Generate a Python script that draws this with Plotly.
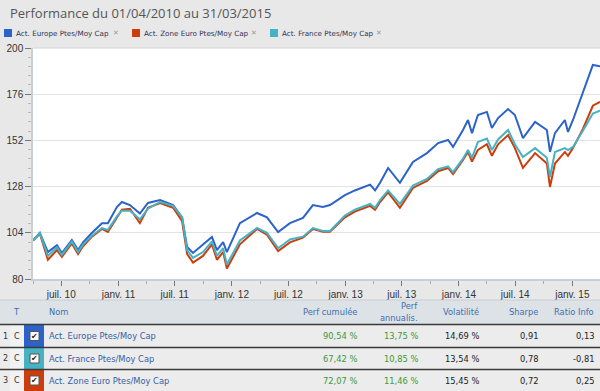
import plotly.graph_objects as go

# ---------------- data ----------------
dates = ["2010-04-01", "2010-04-23", "2010-05-19", "2010-06-17", "2010-07-03", "2010-08-04",
         "2010-08-24", "2010-09-09", "2010-10-08", "2010-11-09", "2010-11-28", "2010-12-27",
         "2011-01-12", "2011-02-07", "2011-03-11", "2011-04-06", "2011-05-15", "2011-06-26",
         "2011-07-25", "2011-08-10", "2011-08-29", "2011-09-30", "2011-10-29", "2011-11-14",
         "2011-12-04", "2011-12-16", "2012-01-27", "2012-03-22", "2012-04-23", "2012-05-29",
         "2012-07-06", "2012-08-17", "2012-09-18", "2012-10-20", "2012-11-12", "2012-12-30",
         "2013-01-31", "2013-03-21", "2013-04-06", "2013-04-22", "2013-05-18", "2013-06-25",
         "2013-08-06", "2013-09-20", "2013-10-26", "2013-11-27", "2013-12-13", "2014-01-14",
         "2014-01-30", "2014-02-12", "2014-03-03", "2014-04-01", "2014-04-17", "2014-05-07",
         "2014-06-08", "2014-06-30", "2014-07-26", "2014-09-03", "2014-10-11", "2014-10-21",
         "2014-11-06", "2014-12-08", "2014-12-18", "2015-01-03", "2015-02-04", "2015-03-08",
         "2015-03-31"]

europe = [100, 104, 94, 97.6, 93.5, 100.3,
          95, 99, 104, 109, 109, 117.4,
          120, 118.4, 114, 119.5, 121, 118.4,
          112, 96.6, 93.5, 97.6, 101.8, 95,
          99.2, 94, 109, 114.3, 112, 104.4,
          109, 111.7, 118.4, 117.4, 118.4, 123.6,
          126, 129, 126, 130, 137.7, 130,
          140.8, 145.4, 150.6, 152.2, 148.6, 157.4,
          162.6, 155.8, 165.2, 166.8, 158.4, 163.6,
          168.3, 165.2, 153.2, 161.6, 157.4, 146,
          155.8, 162.6, 156.4, 162.6, 176.6, 191.2,
          190.54]

zone_euro = [100, 103.5, 90, 95, 91.5, 98.5,
             93, 97, 102, 106, 104.5, 112,
             116, 116.5, 109, 117, 119.5, 117,
             110, 93, 88.5, 92, 98, 90,
             94, 85.5, 98, 106, 103, 94.5,
             99, 101.5, 106, 104.5, 104.5, 112,
             115, 118, 116, 120, 125, 117,
             127.3, 131, 136, 137.7, 134.5, 141.8,
             146, 141, 147, 150, 144, 150,
             154.8, 148, 137.7, 145.4, 140, 127.8,
             140, 146, 144, 148, 158, 170,
             172.07]

france = [100, 103.8, 92, 96.5, 92.5, 99.5,
          94, 98, 102.5, 106.5, 105.5, 112.5,
          115.5, 115.5, 111, 116.5, 120, 118,
          112, 95, 91, 94, 99.5, 92,
          96, 87.5, 100, 106.5, 104, 96,
          100.5, 102, 106.5, 105, 105, 113,
          116, 119, 117, 121, 126, 119,
          128.5, 132, 137, 138.5, 135.5, 142.5,
          147, 143, 151.2, 153, 147, 152.5,
          157.4, 150, 143.4, 148, 143, 133,
          146, 148, 147, 148.6, 157, 166,
          167.42]

y_ticks = [80, 104, 128, 152, 176, 200]
x_tickvals = ["2010-07-01", "2011-01-01", "2011-07-01", "2012-01-01", "2012-07-01",
              "2013-01-01", "2013-07-01", "2014-01-01", "2014-07-01", "2015-01-01"]
x_ticktext = ["juil. 10", "janv. 11", "juil. 11", "janv. 12", "juil. 12",
              "janv. 13", "juil. 13", "janv. 14", "juil. 14", "janv. 15"]

legend_names = ["Act. Europe Ptes/Moy Cap", "Act. Zone Euro Ptes/Moy Cap", "Act. France Ptes/Moy Cap"]

table_names = ["Act. Europe Ptes/Moy Cap", "Act. France Ptes/Moy Cap", "Act. Zone Euro Ptes/Moy Cap"]
perf_cum = ["90,54 %", "67,42 %", "72,07 %"]
perf_ann = ["13,75 %", "10,85 %", "11,46 %"]
volat = ["14,69 %", "13,54 %", "15,45 %"]
sharpe = ["0,91", "0,78", "0,72"]
ratio_info = ["0,13", "-0,81", "0,25"]

# ---------------- style ----------------
BLUE = "#2b63c9"
ORANGE = "#cc3d0b"
TEAL = "#46b3c4"
BG = "#e8e8e8"
W, H = 600, 391
L, R, T, B = 33, 600, 48, 279   # plot area in px


def px(x):
    return (x - L) / (R - L)


def py(y):
    return (B - y) / (B - T)


fig = go.Figure()
series = [(legend_names[0], europe, BLUE),
          (legend_names[1], zone_euro, ORANGE),
          (legend_names[2], france, TEAL)]
for name, vals, col in series:
    fig.add_trace(go.Scatter(x=dates, y=vals, mode="lines", name=name,
                             line=dict(color=col, width=2), showlegend=False))

shapes = []
ann = []

# title
ann.append(dict(x=px(8), y=py(13), xref="paper", yref="paper", xanchor="left", yanchor="middle",
                text="Performance du 01/04/2010 au 31/03/2015", showarrow=False,
                font=dict(family="Open Sans", size=13, color="#555555")))

# legend
leg_x = [4, 132, 270]
leg_cols = [BLUE, ORANGE, TEAL]
leg_close = [116, 254, 379]
for i in range(3):
    shapes.append(dict(type="rect", xref="paper", yref="paper",
                       x0=px(leg_x[i]), x1=px(leg_x[i] + 8), y0=py(37), y1=py(29),
                       fillcolor=leg_cols[i], line=dict(width=0)))
    ann.append(dict(x=px(leg_x[i] + 10), y=py(33), xref="paper", yref="paper",
                    xanchor="left", yanchor="middle", text=legend_names[i], showarrow=False,
                    font=dict(family="DejaVu Sans", size=7.2, color="#333355")))
    ann.append(dict(x=px(leg_close[i]), y=py(33), xref="paper", yref="paper",
                    xanchor="center", yanchor="middle", text="✕", showarrow=False,
                    font=dict(family="DejaVu Sans", size=7, color="#999999")))

# plot top border
shapes.append(dict(type="line", xref="paper", yref="paper", x0=0, x1=1, y0=1, y1=1,
                   line=dict(color="#d4d4d4", width=1)))

# ---------------- table ----------------
hdr_top, hdr_bot = 300, 324
row_tops = [324, 347, 369]
row_h = [23, 22, 22]
shapes.append(dict(type="rect", xref="paper", yref="paper", x0=px(0), x1=px(600),
                   y0=py(hdr_bot), y1=py(hdr_top), fillcolor="#dde2e6",
                   line=dict(width=0), layer="above"))
shapes.append(dict(type="line", xref="paper", yref="paper", x0=px(0), x1=px(600),
                   y0=py(hdr_top), y1=py(hdr_top), line=dict(color="#c9ced3", width=1)))
HDR_FONT = dict(family="DejaVu Sans", size=8.3, color="#3f6fb0")
hdrs = [("T", 16, "center", 312), ("Nom", 47, "left", 312), ("Perf cumulée", 359, "right", 312),
        ("Perf", 420, "right", 306), ("annualis.", 420, "right", 318),
        ("Volatilité", 481, "right", 312), ("Sharpe", 540, "right", 312),
        ("Ratio Info", 596, "right", 312)]
for txt, x, al, y in hdrs:
    ann.append(dict(x=px(x), y=py(y), xref="paper", yref="paper", xanchor=al, yanchor="middle",
                    text=txt, showarrow=False, font=HDR_FONT))

table_cols = [BLUE, TEAL, ORANGE]
for i in range(3):
    top = row_tops[i]
    bot = top + row_h[i]
    cy = top + row_h[i] / 2 + 0.5
    shapes.append(dict(type="rect", xref="paper", yref="paper", x0=px(0), x1=px(600),
                       y0=py(bot), y1=py(top), fillcolor="#ececec", line=dict(width=0), layer="above"))
    shapes.append(dict(type="rect", xref="paper", yref="paper", x0=px(10), x1=px(24),
                       y0=py(bot), y1=py(top), fillcolor="#f2f2f2", line=dict(width=0), layer="above"))
    shapes.append(dict(type="rect", xref="paper", yref="paper", x0=px(24), x1=px(44),
                       y0=py(bot), y1=py(top), fillcolor=table_cols[i], line=dict(width=0), layer="above"))
    shapes.append(dict(type="rect", xref="paper", yref="paper", x0=px(30), x1=px(39),
                       y0=py(cy + 4.5), y1=py(cy - 4.5), fillcolor="#ffffff",
                       line=dict(color="#555555", width=1), layer="above"))
    shapes.append(dict(type="line", xref="paper", yref="paper", x0=px(0), x1=px(600),
                       y0=py(top + 0.5), y1=py(top + 0.5), line=dict(color="#3a3a3a", width=1.5),
                       layer="above"))
    ann.append(dict(x=px(34.5), y=py(cy), xref="paper", yref="paper", xanchor="center",
                    yanchor="middle", text="✔", showarrow=False,
                    font=dict(family="DejaVu Sans", size=8, color="#222222")))
    ann.append(dict(x=px(5), y=py(cy), xref="paper", yref="paper", xanchor="center",
                    yanchor="middle", text=str(i + 1), showarrow=False,
                    font=dict(family="DejaVu Sans", size=8, color="#333333")))
    ann.append(dict(x=px(17), y=py(cy), xref="paper", yref="paper", xanchor="center",
                    yanchor="middle", text="C", showarrow=False,
                    font=dict(family="DejaVu Sans", size=8, color="#333333")))
    ann.append(dict(x=px(47), y=py(cy), xref="paper", yref="paper", xanchor="left",
                    yanchor="middle", text=table_names[i], showarrow=False,
                    font=dict(family="DejaVu Sans", size=8.3, color="#3360a8")))
    cells = [(perf_cum[i], 359, "#3a9a3a"), (perf_ann[i], 420, "#3a9a3a"),
             (volat[i], 481, "#222222"), (sharpe[i], 540, "#222222"), (ratio_info[i], 596, "#222222")]
    for txt, x, col in cells:
        ann.append(dict(x=px(x), y=py(cy), xref="paper", yref="paper", xanchor="right",
                        yanchor="middle", text=txt, showarrow=False,
                        font=dict(family="DejaVu Sans", size=8.3, color=col)))

fig.update_layout(
    width=W, height=H,
    margin=dict(l=L, r=W - R, t=T, b=H - B, pad=0),
    paper_bgcolor=BG, plot_bgcolor="#ffffff",
    showlegend=False, hovermode=False,
    shapes=shapes, annotations=ann,
    xaxis=dict(type="date", range=["2010-04-01", "2015-03-31"],
               tickvals=x_tickvals, ticktext=x_ticktext,
               ticks="outside", ticklen=5, tickcolor="#777777", tickwidth=1,
               showgrid=False, zeroline=False,
               showline=True, linecolor="#c8cfd6", linewidth=1.5,
               tickfont=dict(family="Liberation Sans", size=10, color="#333333"),
               minor=dict(ticks="outside", ticklen=3, tickcolor="#aaaaaa",
                          dtick="M3", tick0="2010-04-01", showgrid=False)),
    yaxis=dict(range=[80, 200], tickvals=y_ticks,
               ticks="outside", ticklen=6, tickcolor="#777777", tickwidth=1,
               showgrid=True, gridcolor="#e3e3e3", gridwidth=1, zeroline=False,
               showline=True, linecolor="#c8cfd6", linewidth=1.5,
               tickfont=dict(family="Liberation Sans", size=10, color="#333333"),
               minor=dict(ticks="outside", ticklen=3, tickcolor="#bbbbbb",
                          dtick=4.8, tick0=80, showgrid=False)),
)

fig.write_html("out.html", config={"displayModeBar": False},
               post_script="document.body.style.margin='0';document.body.style.overflow='hidden';")
